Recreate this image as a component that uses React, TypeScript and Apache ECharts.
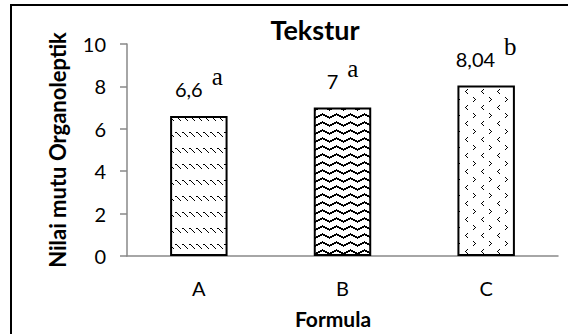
import React, { useEffect, useRef } from "react";
import * as echarts from "echarts";

const categories = ["A", "B", "C"];
const values = [6.6, 7, 8.04];
const letters = ["a", "a", "b"];
const yTicks = [0, 2, 4, 6, 8, 10];

type Px = [number, number];

// Small black-on-white tiles used as bar fills.
function makeTile(w: number, h: number, draw: (ctx: CanvasRenderingContext2D) => void) {
  const c = document.createElement("canvas");
  c.width = w;
  c.height = h;
  const ctx = c.getContext("2d")!;
  ctx.fillStyle = "#ffffff";
  ctx.fillRect(0, 0, w, h);
  ctx.fillStyle = "#000000";
  draw(ctx);
  return { image: c.toDataURL(), imageWidth: w, imageHeight: h, repeat: "repeat" as const };
}

function dots(ctx: CanvasRenderingContext2D, pts: Px[], ox: number, oy: number) {
  pts.forEach(([x, y]) => ctx.fillRect(ox + x, oy + y, 1, 1));
}

function buildPatterns() {
  // dashed downward diagonals
  const diag = makeTile(7, 16, (ctx) => {
    for (let i = 0; i < 5; i++) ctx.fillRect(1 + i, 4 + i, 1, 1);
    ctx.fillRect(0, 4, 1, 1);
  });
  // zigzag wave
  const wave = makeTile(14, 8, (ctx) => {
    for (let x = 0; x < 14; x++) {
      const y = x <= 7 ? Math.round((x * 4) / 7) : Math.round(((14 - x) * 4) / 7);
      ctx.fillRect(x, 1 + y, 1, 2);
    }
  });
  // divots
  const gt: Px[] = [[0, 0], [1, 1], [2, 2], [1, 3], [0, 4]];
  const lt: Px[] = [[2, 0], [1, 1], [0, 2], [1, 3], [2, 4]];
  const divot = makeTile(16, 16, (ctx) => {
    dots(ctx, gt, 9, 1);
    dots(ctx, lt, 1, 9);
  });
  return [diag, wave, divot];
}

export default function App() {
  const ref = useRef<HTMLDivElement>(null);

  useEffect(() => {
    if (!ref.current) return;
    const chart = echarts.init(ref.current, null, { renderer: "svg" });
    const patterns = buildPatterns();
    const fmt = (v: number) => String(v).replace(".", ",");

    chart.setOption({
      animation: false,
      backgroundColor: "#ffffff",
      title: {
        text: "Tekstur",
        left: 310,
        top: 11,
        textAlign: "center",
        textStyle: { fontFamily: "Lato", fontWeight: "bold", fontSize: 27, color: "#000" },
      },
      graphic: [
        {
          type: "rect",
          shape: { x: 11, y: 5, width: 620, height: 400 },
          style: { fill: "none", stroke: "#000", lineWidth: 2 },
          silent: true,
        },
      ],
      grid: { left: 127, right: 10, top: 44, bottom: 77, containLabel: false },
      xAxis: {
        type: "category",
        data: categories,
        name: "Formula",
        nameLocation: "middle",
        nameGap: 52,
        nameTextStyle: {
          fontFamily: "Lato",
          fontWeight: "bold",
          fontSize: 21,
          color: "#000",
          padding: [0, 19, 0, 0],
        },
        axisLine: { lineStyle: { color: "#898989", width: 1.5 } },
        axisTick: { show: false },
        axisLabel: { fontFamily: "Lato", fontSize: 20, color: "#000", margin: 22 },
      },
      yAxis: {
        type: "value",
        min: yTicks[0],
        max: yTicks[yTicks.length - 1],
        interval: yTicks[1] - yTicks[0],
        name: "Nilai mutu Organoleptik",
        nameLocation: "middle",
        nameGap: 59,
        nameTextStyle: { fontFamily: "Lato", fontWeight: "bold", fontSize: 22, color: "#000" },
        axisLine: { show: true, lineStyle: { color: "#898989", width: 1.5 } },
        axisTick: { show: true, length: 7, lineStyle: { color: "#898989", width: 1.5 } },
        axisLabel: { fontFamily: "Lato", fontSize: 20, color: "#000", margin: 21 },
        splitLine: { show: false },
      },
      series: [
        {
          type: "bar",
          barWidth: "40%",
          data: values.map((v, i) => ({
            value: v,
            itemStyle: { color: patterns[i], borderColor: "#000", borderWidth: 2 },
          })),
          label: {
            show: true,
            position: "top",
            distance: 2,
            formatter: (p: any) => `{v|${fmt(p.value)}}{s|${letters[p.dataIndex]}}`,
            rich: {
              v: { fontFamily: "Lato", fontSize: 20, color: "#000" },
              s: {
                fontFamily: "Liberation Serif",
                fontSize: 25,
                color: "#000",
                padding: [0, 0, 25, 9],
              },
            },
          },
        },
      ],
    });

    return () => chart.dispose();
  }, []);

  return (
    <div
      ref={ref}
      style={{ position: "absolute", left: 0, top: 0, width: 568, height: 334 }}
    />
  );
}
